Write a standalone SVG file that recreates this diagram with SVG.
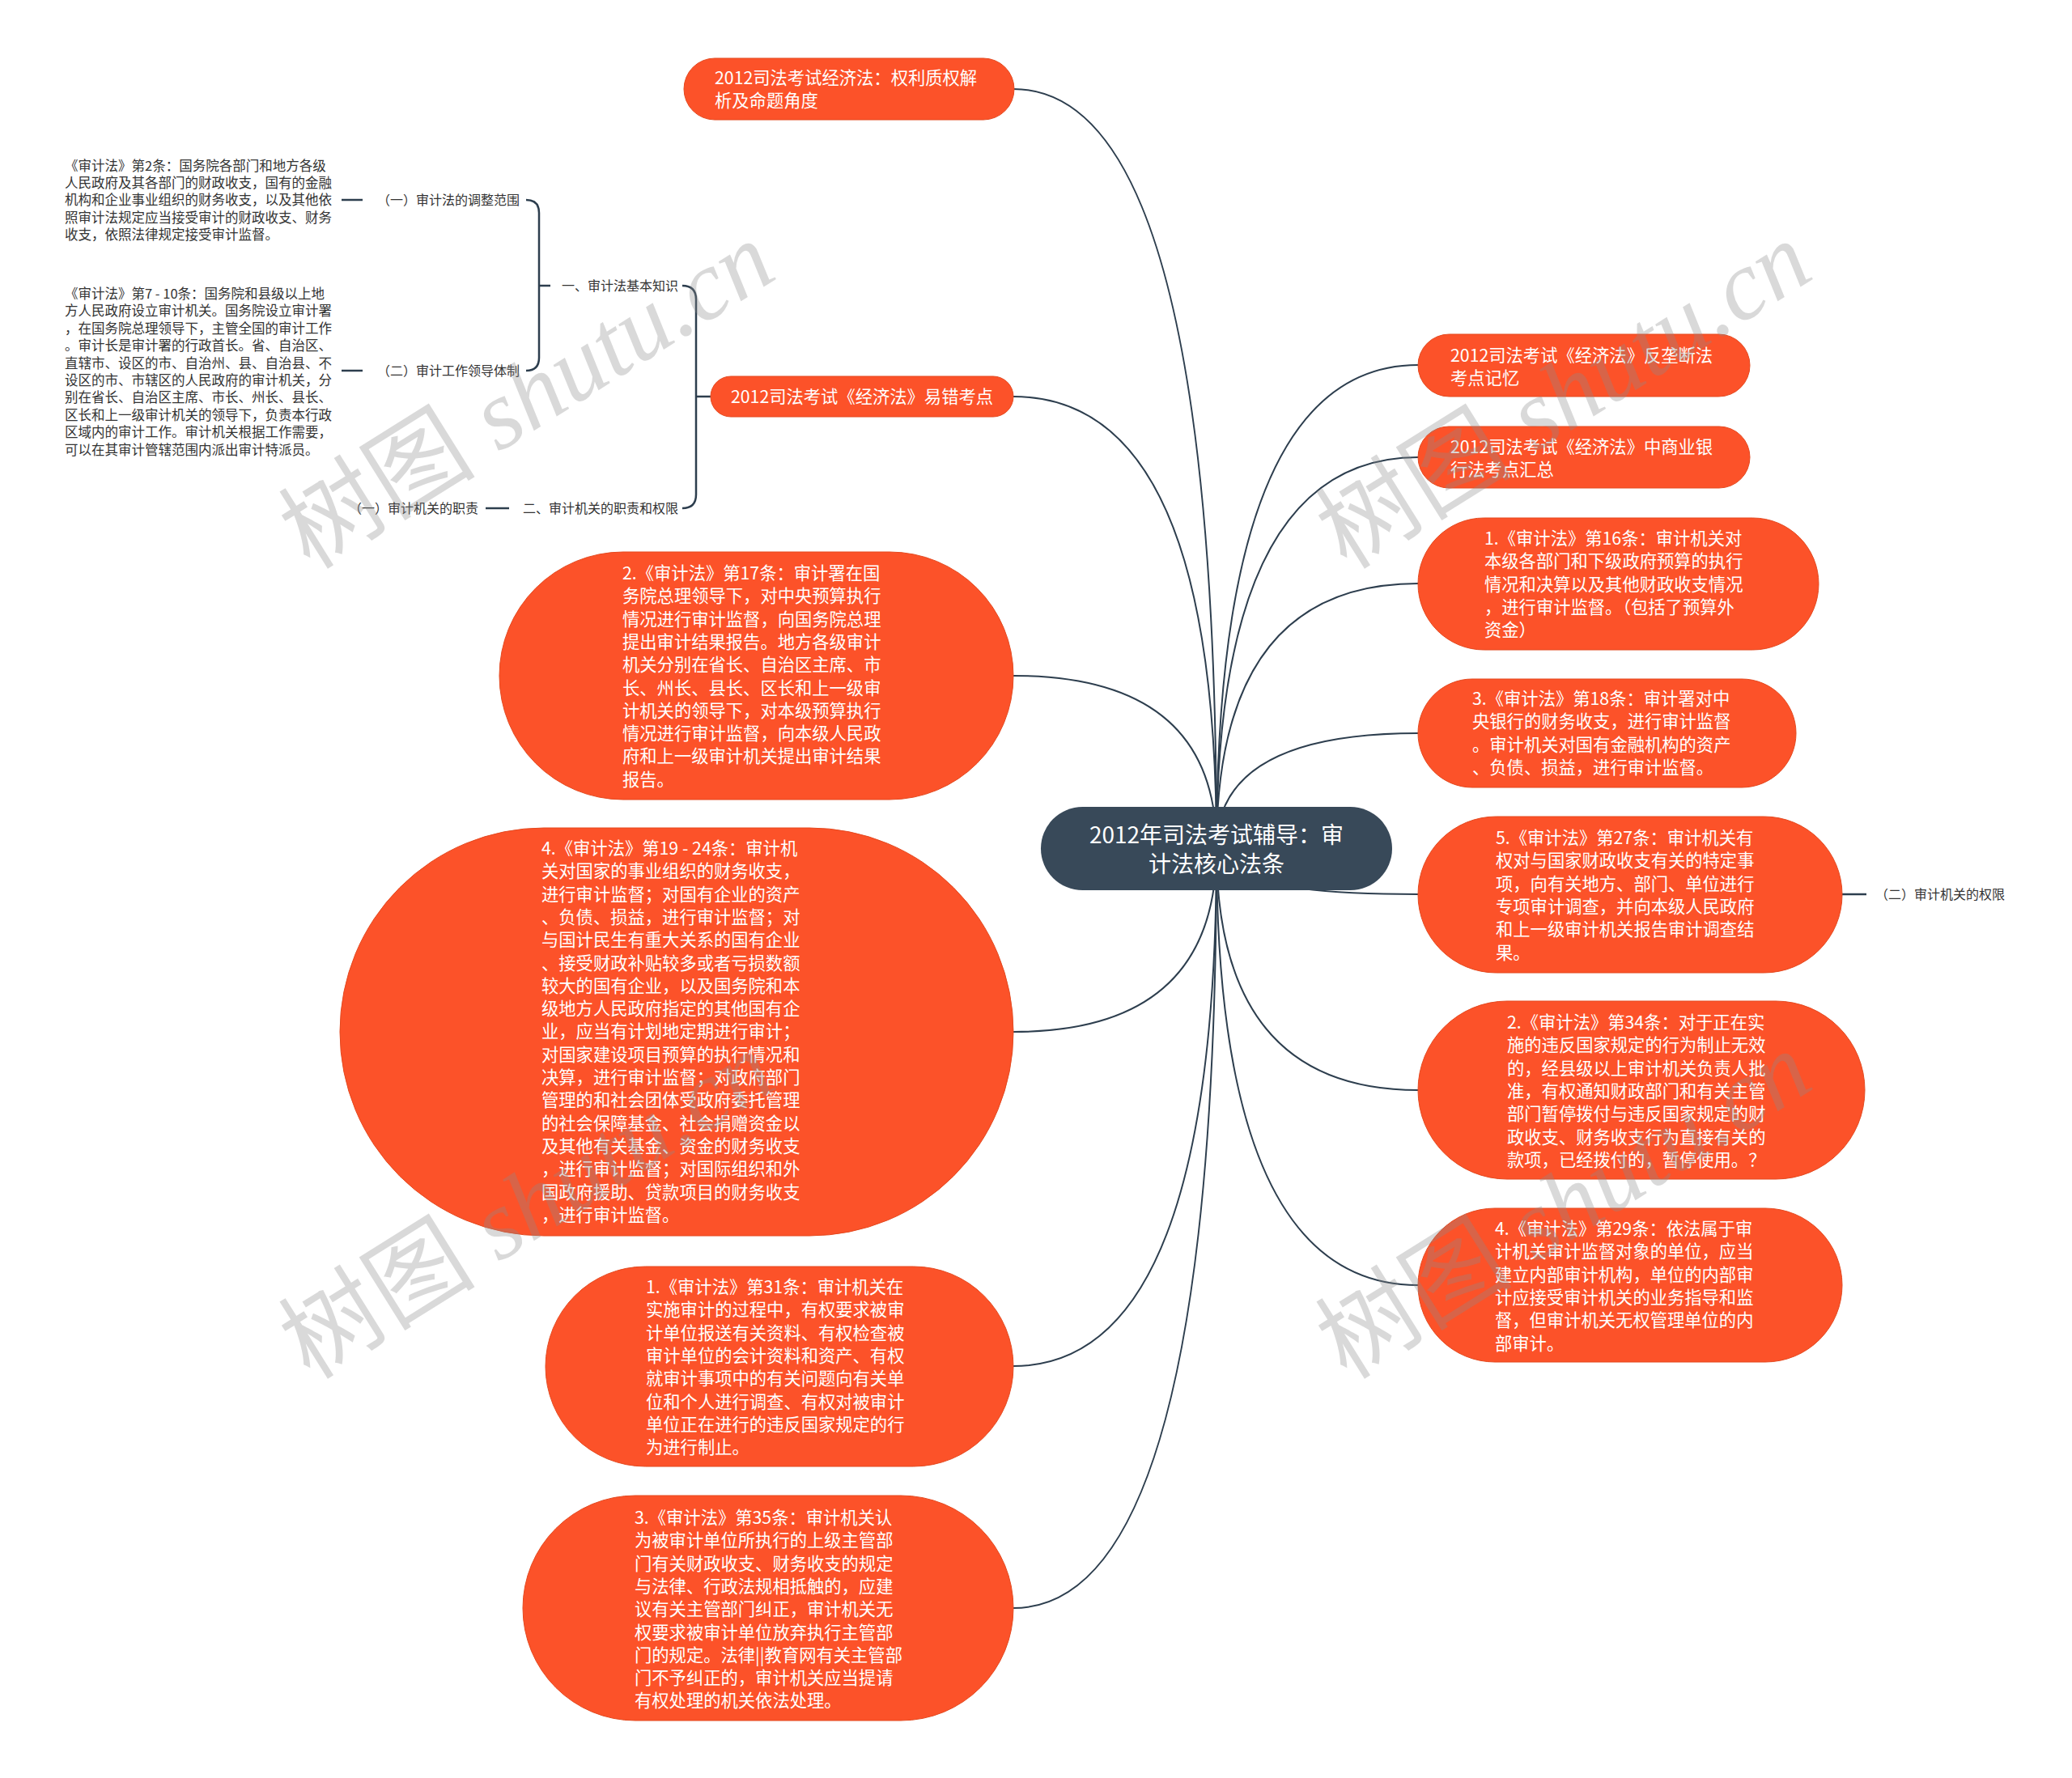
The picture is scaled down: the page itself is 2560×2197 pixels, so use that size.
<svg xmlns="http://www.w3.org/2000/svg" width="2560" height="2197" viewBox="0 0 2560 2197">
<style>
.bg{fill:#ffffff}
.root{fill:#384959}
.node{fill:#fc5229;stroke:#e4491f;stroke-width:1}
.rt{font-family:"Noto Sans CJK SC","Noto Sans",sans-serif;font-size:28px;fill:#ffffff;text-anchor:middle}
.nt{font-family:"Noto Sans CJK SC","Noto Sans",sans-serif;font-size:21.3px;fill:#ffffff}
.st{font-family:"Noto Sans CJK SC","Noto Sans",sans-serif;font-size:16px;fill:#333333}
.bt{font-family:"Noto Sans CJK SC","Noto Sans",sans-serif;font-size:16.5px;fill:#333333}
.end{text-anchor:end}
.ln{fill:none;stroke:#2d3e4e;stroke-width:2}
.tk{fill:none;stroke:#2d3e4e;stroke-width:2.5}
.wm{fill:#8c8c8c;opacity:0.32;font-size:122px}
</style>
<rect class="bg" x="0" y="0" width="2560" height="2197"/>
<g id="connectors">
<path class="ln" d="M1503 1048 Q1503 110 1252 110"/>
<path class="ln" d="M1503 1048 Q1503 490 1252 490"/>
<path class="ln" d="M1503 1048 Q1503 835 1252 835"/>
<path class="ln" d="M1503 1048 Q1503 1275 1252 1275"/>
<path class="ln" d="M1503 1048 Q1503 1688 1252 1688"/>
<path class="ln" d="M1503 1048 Q1503 1987 1252 1987"/>
<path class="ln" d="M1503 1048 Q1503 451 1752 451"/>
<path class="ln" d="M1503 1048 Q1503 565 1752 565"/>
<path class="ln" d="M1503 1048 Q1503 721 1752 721"/>
<path class="ln" d="M1503 1048 Q1503 906 1752 906"/>
<path class="ln" d="M1503 1048 Q1503 1105 1752 1105"/>
<path class="ln" d="M1503 1048 Q1503 1347 1752 1347"/>
<path class="ln" d="M1503 1048 Q1503 1588 1752 1588"/>
<path class="tk" d="M2276 1105 L2306 1105"/>
<path class="tk" d="M878 490 L860 490 M843 353 Q860 353 860 370 L860 611 Q860 628 843 628"/>
<path class="tk" d="M680 353 L666 353 M650 247 Q666 247 666 263 L666 442 Q666 458 650 458"/>
<path class="tk" d="M422 247 L448 247"/>
<path class="tk" d="M422 458 L448 458"/>
<path class="tk" d="M600 628 L629 628"/>
</g>
<g id="root">
<rect class="root" x="1286" y="997" width="434" height="103" rx="51.5"/>
<text class="rt" x="1503" y="1042">2012年司法考试辅导：审</text>
<text class="rt" x="1503" y="1078">计法核心法条</text>
</g>
<g id="n-top">
<rect class="node" x="845" y="72" width="408" height="76" rx="38"/>
<text class="nt" x="883" y="104">2012司法考试经济法：权利质权解</text>
<text class="nt" x="883" y="132">析及命题角度</text>
</g>
<g id="n-yicuo">
<rect class="node" x="878" y="465" width="374" height="50" rx="25"/>
<text class="nt" x="1065" y="498" text-anchor="middle">2012司法考试《经济法》易错考点</text>
</g>
<g id="l-yi">
<text class="st end" x="838" y="359">一、审计法基本知识</text>
</g>
<g id="l-yi-1">
<text class="st end" x="642" y="253">（一）审计法的调整范围</text>
</g>
<g id="l-yi-1-t">
<text class="bt"><tspan x="80" y="211">《审计法》第2条：国务院各部门和地方各级</tspan><tspan x="80" dy="21.2">人民政府及其各部门的财政收支，国有的金融</tspan><tspan x="80" dy="21.2">机构和企业事业组织的财务收支，以及其他依</tspan><tspan x="80" dy="21.2">照审计法规定应当接受审计的财政收支、财务</tspan><tspan x="80" dy="21.2">收支，依照法律规定接受审计监督。</tspan></text>
</g>
<g id="l-yi-2">
<text class="st end" x="642" y="464">（二）审计工作领导体制</text>
</g>
<g id="l-yi-2-t">
<text class="bt"><tspan x="80" y="369">《审计法》第7 - 10条：国务院和县级以上地</tspan><tspan x="80" dy="21.4">方人民政府设立审计机关。国务院设立审计署</tspan><tspan x="80" dy="21.4">，在国务院总理领导下，主管全国的审计工作</tspan><tspan x="80" dy="21.4">。审计长是审计署的行政首长。省、自治区、</tspan><tspan x="80" dy="21.4">直辖市、设区的市、自治州、县、自治县、不</tspan><tspan x="80" dy="21.4">设区的市、市辖区的人民政府的审计机关，分</tspan><tspan x="80" dy="21.4">别在省长、自治区主席、市长、州长、县长、</tspan><tspan x="80" dy="21.4">区长和上一级审计机关的领导下，负责本行政</tspan><tspan x="80" dy="21.4">区域内的审计工作。审计机关根据工作需要，</tspan><tspan x="80" dy="21.4">可以在其审计管辖范围内派出审计特派员。</tspan></text>
</g>
<g id="l-er">
<text class="st end" x="838" y="634">二、审计机关的职责和权限</text>
</g>
<g id="l-er-1">
<text class="st end" x="591" y="634">（一）审计机关的职责</text>
</g>
<g id="n-17">
<rect class="node" x="617" y="682" width="635" height="306" rx="153"/>
<text class="nt"><tspan x="769" y="716">2.《审计法》第17条：审计署在国</tspan><tspan x="769" dy="28.3">务院总理领导下，对中央预算执行</tspan><tspan x="769" dy="28.3">情况进行审计监督，向国务院总理</tspan><tspan x="769" dy="28.3">提出审计结果报告。地方各级审计</tspan><tspan x="769" dy="28.3">机关分别在省长、自治区主席、市</tspan><tspan x="769" dy="28.3">长、州长、县长、区长和上一级审</tspan><tspan x="769" dy="28.3">计机关的领导下，对本级预算执行</tspan><tspan x="769" dy="28.3">情况进行审计监督，向本级人民政</tspan><tspan x="769" dy="28.3">府和上一级审计机关提出审计结果</tspan><tspan x="769" dy="28.3">报告。</tspan></text>
</g>
<g id="n-19">
<rect class="node" x="420" y="1023" width="832" height="504" rx="252"/>
<text class="nt"><tspan x="669" y="1056">4.《审计法》第19 - 24条：审计机</tspan><tspan x="669" dy="28.3">关对国家的事业组织的财务收支，</tspan><tspan x="669" dy="28.3">进行审计监督；对国有企业的资产</tspan><tspan x="669" dy="28.3">、负债、损益，进行审计监督；对</tspan><tspan x="669" dy="28.3">与国计民生有重大关系的国有企业</tspan><tspan x="669" dy="28.3">、接受财政补贴较多或者亏损数额</tspan><tspan x="669" dy="28.3">较大的国有企业，以及国务院和本</tspan><tspan x="669" dy="28.3">级地方人民政府指定的其他国有企</tspan><tspan x="669" dy="28.3">业，应当有计划地定期进行审计；</tspan><tspan x="669" dy="28.3">对国家建设项目预算的执行情况和</tspan><tspan x="669" dy="28.3">决算，进行审计监督；对政府部门</tspan><tspan x="669" dy="28.3">管理的和社会团体受政府委托管理</tspan><tspan x="669" dy="28.3">的社会保障基金、社会捐赠资金以</tspan><tspan x="669" dy="28.3">及其他有关基金、资金的财务收支</tspan><tspan x="669" dy="28.3">，进行审计监督；对国际组织和外</tspan><tspan x="669" dy="28.3">国政府援助、贷款项目的财务收支</tspan><tspan x="669" dy="28.3">，进行审计监督。</tspan></text>
</g>
<g id="n-31">
<rect class="node" x="674" y="1565" width="578" height="247" rx="123.5"/>
<text class="nt"><tspan x="798" y="1598">1.《审计法》第31条：审计机关在</tspan><tspan x="798" dy="28.3">实施审计的过程中，有权要求被审</tspan><tspan x="798" dy="28.3">计单位报送有关资料、有权检查被</tspan><tspan x="798" dy="28.3">审计单位的会计资料和资产、有权</tspan><tspan x="798" dy="28.3">就审计事项中的有关问题向有关单</tspan><tspan x="798" dy="28.3">位和个人进行调查、有权对被审计</tspan><tspan x="798" dy="28.3">单位正在进行的违反国家规定的行</tspan><tspan x="798" dy="28.3">为进行制止。</tspan></text>
</g>
<g id="n-35">
<rect class="node" x="646" y="1848" width="606" height="278" rx="139"/>
<text class="nt"><tspan x="784" y="1883">3.《审计法》第35条：审计机关认</tspan><tspan x="784" dy="28.3">为被审计单位所执行的上级主管部</tspan><tspan x="784" dy="28.3">门有关财政收支、财务收支的规定</tspan><tspan x="784" dy="28.3">与法律、行政法规相抵触的，应建</tspan><tspan x="784" dy="28.3">议有关主管部门纠正，审计机关无</tspan><tspan x="784" dy="28.3">权要求被审计单位放弃执行主管部</tspan><tspan x="784" dy="28.3">门的规定。法律||教育网有关主管部</tspan><tspan x="784" dy="28.3">门不予纠正的，审计机关应当提请</tspan><tspan x="784" dy="28.3">有权处理的机关依法处理。</tspan></text>
</g>
<g id="n-fld">
<rect class="node" x="1752" y="413" width="410" height="77" rx="38.5"/>
<text class="nt" x="1792" y="447">2012司法考试《经济法》反垄断法</text>
<text class="nt" x="1792" y="475">考点记忆</text>
</g>
<g id="n-syyh">
<rect class="node" x="1752" y="527" width="410" height="76" rx="38"/>
<text class="nt" x="1792" y="560">2012司法考试《经济法》中商业银</text>
<text class="nt" x="1792" y="588">行法考点汇总</text>
</g>
<g id="n-16">
<rect class="node" x="1752" y="640" width="495" height="163" rx="81.5"/>
<text class="nt"><tspan x="1834" y="673">1.《审计法》第16条：审计机关对</tspan><tspan x="1834" dy="28.3">本级各部门和下级政府预算的执行</tspan><tspan x="1834" dy="28.3">情况和决算以及其他财政收支情况</tspan><tspan x="1834" dy="28.3">，进行审计监督。（包括了预算外</tspan><tspan x="1834" dy="28.3">资金）</tspan></text>
</g>
<g id="n-18">
<rect class="node" x="1752" y="839" width="467" height="134" rx="67"/>
<text class="nt"><tspan x="1819" y="871">3.《审计法》第18条：审计署对中</tspan><tspan x="1819" dy="28.3">央银行的财务收支，进行审计监督</tspan><tspan x="1819" dy="28.3">。审计机关对国有金融机构的资产</tspan><tspan x="1819" dy="28.3">、负债、损益，进行审计监督。</tspan></text>
</g>
<g id="n-27">
<rect class="node" x="1752" y="1009" width="524" height="193" rx="96.5"/>
<text class="nt"><tspan x="1848" y="1043">5.《审计法》第27条：审计机关有</tspan><tspan x="1848" dy="28.3">权对与国家财政收支有关的特定事</tspan><tspan x="1848" dy="28.3">项，向有关地方、部门、单位进行</tspan><tspan x="1848" dy="28.3">专项审计调查，并向本级人民政府</tspan><tspan x="1848" dy="28.3">和上一级审计机关报告审计调查结</tspan><tspan x="1848" dy="28.3">果。</tspan></text>
</g>
<g id="l-er-2">
<text class="st" x="2317" y="1111">（二）审计机关的权限</text>
</g>
<g id="n-34">
<rect class="node" x="1752" y="1237" width="552" height="220" rx="110"/>
<text class="nt"><tspan x="1862" y="1271">2.《审计法》第34条：对于正在实</tspan><tspan x="1862" dy="28.3">施的违反国家规定的行为制止无效</tspan><tspan x="1862" dy="28.3">的，经县级以上审计机关负责人批</tspan><tspan x="1862" dy="28.3">准，有权通知财政部门和有关主管</tspan><tspan x="1862" dy="28.3">部门暂停拨付与违反国家规定的财</tspan><tspan x="1862" dy="28.3">政收支、财务收支行为直接有关的</tspan><tspan x="1862" dy="28.3">款项，已经拨付的，暂停使用。？</tspan></text>
</g>
<g id="n-29">
<rect class="node" x="1752" y="1493" width="524" height="190" rx="95"/>
<text class="nt"><tspan x="1847" y="1526">4.《审计法》第29条：依法属于审</tspan><tspan x="1847" dy="28.3">计机关审计监督对象的单位，应当</tspan><tspan x="1847" dy="28.3">建立内部审计机构，单位的内部审</tspan><tspan x="1847" dy="28.3">计应接受审计机关的业务指导和监</tspan><tspan x="1847" dy="28.3">督，但审计机关无权管理单位的内</tspan><tspan x="1847" dy="28.3">部审计。</tspan></text>
</g>
<g id="watermarks">
<text class="wm" transform="translate(383,705) rotate(-32)"><tspan font-family="Noto Sans CJK SC,sans-serif">树图</tspan><tspan font-family="Liberation Serif,serif" font-style="italic"> shutu.cn</tspan></text>
<text class="wm" transform="translate(1664,705) rotate(-32)"><tspan font-family="Noto Sans CJK SC,sans-serif">树图</tspan><tspan font-family="Liberation Serif,serif" font-style="italic"> shutu.cn</tspan></text>
<text class="wm" transform="translate(383,1706) rotate(-32)"><tspan font-family="Noto Sans CJK SC,sans-serif">树图</tspan><tspan font-family="Liberation Serif,serif" font-style="italic"> shutu.cn</tspan></text>
<text class="wm" transform="translate(1664,1706) rotate(-32)"><tspan font-family="Noto Sans CJK SC,sans-serif">树图</tspan><tspan font-family="Liberation Serif,serif" font-style="italic"> shutu.cn</tspan></text>
</g>
</svg>
